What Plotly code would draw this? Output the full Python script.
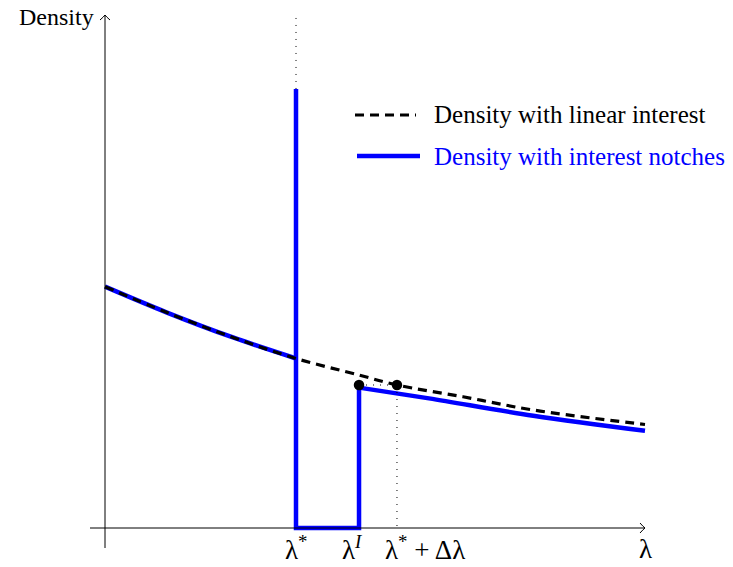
import plotly.graph_objects as go

# ---- data ----
lam_linear = [0, 1.148, 2.37, 3.537, 4.704, 5.407, 6.63, 7.93, 10]
dens_linear = [4.469, 3.99, 3.528, 3.139, 2.833, 2.648, 2.43, 2.185, 1.917]

lam_star = 3.537
lam_I = 4.704
lam_star_dlam = 5.407
spike_top = 8.13
dens_at_dlam = 2.648

lam_notch_left = [0, 1.148, 2.37, 3.537]
dens_notch_left = [4.469, 3.99, 3.528, 3.139]
lam_notch_right = [4.704, 6.0, 7.93, 10]
dens_notch_right = [2.60, 2.40, 2.08, 1.80]

tick_labels = ["λ<sup>*</sup>", "λ<sup><i>I</i></sup>", "λ<sup>*</sup> + Δλ"]
legend_labels = ["Density with linear interest", "Density with interest notches"]

BLUE = "#0000ff"
FONT = "Liberation Serif"
PX = 54.0  # pixels per data unit (both axes)
X0, Y0 = 105, 528  # origin in figure pixels

fig = go.Figure()

# blue notch curve
fig.add_trace(go.Scatter(x=lam_notch_left, y=dens_notch_left, mode="lines",
                         line=dict(color=BLUE, width=4.5, shape="spline"), hoverinfo="skip"))
fig.add_trace(go.Scatter(x=[lam_star, lam_star, lam_star, lam_I, lam_I],
                         y=[dens_notch_left[-1], spike_top, 0, 0, dens_notch_right[0]],
                         mode="lines", line=dict(color=BLUE, width=4.5), hoverinfo="skip"))
fig.add_trace(go.Scatter(x=lam_notch_right, y=dens_notch_right, mode="lines",
                         line=dict(color=BLUE, width=4.5, shape="spline"), hoverinfo="skip"))

# dashed linear curve
fig.add_trace(go.Scatter(x=lam_linear, y=dens_linear, mode="lines",
                         line=dict(color="black", width=3.2, dash="9px,6px", shape="spline"),
                         hoverinfo="skip"))

# dotted guides
fig.add_trace(go.Scatter(x=[lam_star, lam_star], y=[spike_top, 9.5], mode="lines",
                         line=dict(color="black", width=1, dash="1px,6px"), hoverinfo="skip"))
fig.add_trace(go.Scatter(x=[lam_star_dlam, lam_star_dlam], y=[dens_at_dlam, 0], mode="lines",
                         line=dict(color="black", width=1, dash="1px,6px"), hoverinfo="skip"))
fig.add_trace(go.Scatter(x=[lam_I, lam_star_dlam], y=[dens_at_dlam, dens_at_dlam], mode="lines",
                         line=dict(color="black", width=1, dash="1px,6px"), hoverinfo="skip"))

# dots
fig.add_trace(go.Scatter(x=[lam_I, lam_star_dlam], y=[dens_at_dlam, dens_at_dlam], mode="markers",
                         marker=dict(color="black", size=10.5), hoverinfo="skip"))

shapes = []
# axes
shapes.append(dict(type="line", x0=-15 / PX, x1=10, y0=0, y1=0, xref="x", yref="y",
                   line=dict(color="black", width=1)))
shapes.append(dict(type="line", x0=0, x1=0, y0=-20 / PX, y1=513 / PX, xref="x", yref="y",
                   line=dict(color="black", width=1)))
a = 5 / PX
shapes.append(dict(type="path", xref="x", yref="y",
                   path=f"M {10 - a},{a} Q {10 - a * 0.3},{a * 0.2} {10},0 Q {10 - a * 0.3},{-a * 0.2} {10 - a},{-a}",
                   line=dict(color="black", width=1)))
yt = 513 / PX
shapes.append(dict(type="path", xref="x", yref="y",
                   path=f"M {-a},{yt - a} Q {-a * 0.2},{yt - a * 0.3} 0,{yt} Q {a * 0.2},{yt - a * 0.3} {a},{yt - a}",
                   line=dict(color="black", width=1)))

# helpers: screen pixel -> data units
def px2x(px):
    return (px - X0) / PX

def py2y(py):
    return (Y0 - py) / PX

# legend samples
fig.add_trace(go.Scatter(x=[px2x(355), px2x(416)], y=[py2y(115), py2y(115)], mode="lines",
                         line=dict(color="black", width=3.2, dash="9px,6px"), hoverinfo="skip"))
fig.add_trace(go.Scatter(x=[px2x(357), px2x(420)], y=[py2y(156), py2y(156)], mode="lines",
                         line=dict(color=BLUE, width=4.5), hoverinfo="skip"))

annotations = [
    dict(x=px2x(432), y=py2y(114), text=legend_labels[0], showarrow=False, xanchor="left",
         yanchor="middle", font=dict(family=FONT, size=25, color="black")),
    dict(x=px2x(432), y=py2y(156), text=legend_labels[1], showarrow=False, xanchor="left",
         yanchor="middle", font=dict(family=FONT, size=25, color=BLUE)),
    dict(x=px2x(96), y=py2y(17), text="Density", showarrow=False, xanchor="right",
         yanchor="middle", font=dict(family=FONT, size=24, color="black")),
    dict(x=10, y=py2y(549), text="λ", showarrow=False, xanchor="center",
         yanchor="middle", font=dict(family=FONT, size=27, color="black")),
    dict(x=lam_star, y=py2y(548), text=tick_labels[0], showarrow=False, xanchor="center",
         yanchor="middle", font=dict(family=FONT, size=27, color="black")),
    dict(x=px2x(352), y=py2y(548), text=tick_labels[1], showarrow=False, xanchor="center",
         yanchor="middle", font=dict(family=FONT, size=27, color="black")),
    dict(x=px2x(425), y=py2y(548), text=tick_labels[2], showarrow=False, xanchor="center",
         yanchor="middle", font=dict(family=FONT, size=27, color="black")),
]

fig.update_layout(
    width=733, height=567, margin=dict(l=0, r=0, t=0, b=0),
    paper_bgcolor="white", plot_bgcolor="white", showlegend=False,
    xaxis=dict(range=[-X0 / PX, (733 - X0) / PX], visible=False, fixedrange=True),
    yaxis=dict(range=[(Y0 - 567) / PX, Y0 / PX], visible=False, fixedrange=True),
    shapes=shapes, annotations=annotations,
)

fig.write_html("out.html", config={"displayModeBar": False, "staticPlot": True},
               post_script="document.body.style.margin='0';")
